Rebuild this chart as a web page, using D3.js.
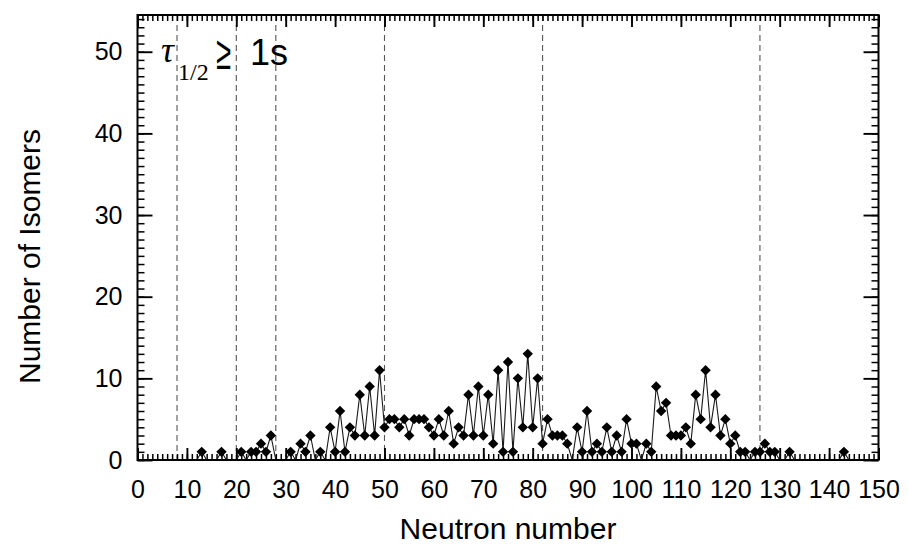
<!DOCTYPE html>
<html>
<head>
<meta charset="utf-8">
<script src="https://cdn.jsdelivr.net/npm/d3@7"></script>
<style>
  body { margin: 0; background: #fff; }
  svg { display: block; }
</style>
</head>
<body>
<svg id="chart" width="908" height="548"></svg>
<script>
// Neutron numbers covered by the isomer series (N = 12 … 144)
const neutronNumbers = d3.range(12, 145);

// Number of isomers with half-life >= 1 s at each neutron number
const isomerCounts = [
  0, 1, 0, 0, 0, 1, 0, 0, 0, 1,   // 12-21
  0, 1, 1, 2, 1, 3, 0, 0, 0, 1,   // 22-31
  0, 2, 1, 3, 0, 1, 0, 4, 1, 6,   // 32-41
  1, 4, 3, 8, 3, 9, 3, 11, 4, 5,  // 42-51
  5, 4, 5, 3, 5, 5, 5, 4, 3, 5,   // 52-61
  3, 6, 2, 4, 3, 8, 3, 9, 3, 8,   // 62-71
  2, 11, 1, 12, 1, 10, 4, 13, 4, 10, // 72-81
  2, 5, 3, 3, 3, 2, 0, 4, 1, 6,   // 82-91
  1, 2, 1, 4, 1, 3, 1, 5, 2, 2,   // 92-101
  0, 2, 1, 9, 6, 7, 3, 3, 3, 4,   // 102-111
  2, 8, 5, 11, 4, 8, 3, 5, 2, 3,  // 112-121
  1, 1, 0, 1, 1, 2, 1, 1, 0, 0,   // 122-131
  1, 0, 0, 0, 0, 0, 0, 0, 0, 0,   // 132-141
  0, 1, 0                         // 142-144
];

// Shell-closure neutron numbers marked with dashed lines
const magicNumbers = [8, 20, 28, 50, 82, 126];

const xTickValues = [0, 10, 20, 30, 40, 50, 60, 70, 80, 90, 100, 110, 120, 130, 140, 150];
const yTickValues = [0, 10, 20, 30, 40, 50];
const xMinorValues = d3.range(0, 151);
const yMinorValues = d3.range(0, 55);

const svg = d3.select("#chart");
const plot = { left: 137.5, right: 878.5, top: 15, bottom: 460 };

const x = d3.scaleLinear().domain([0, 150]).range([plot.left, plot.right]);
const y = d3.scaleLinear().domain([0, 54.5]).range([plot.bottom, plot.top]);

const FONT = "'Liberation Sans', Arial, sans-serif";
const SERIF = "'Liberation Serif', 'Times New Roman', serif";

svg.append("defs").append("clipPath").attr("id", "plotClip")
  .append("rect")
  .attr("x", plot.left).attr("y", plot.top)
  .attr("width", plot.right - plot.left).attr("height", plot.bottom - plot.top);

// Dashed magic-number guides
svg.append("g").selectAll("line").data(magicNumbers).join("line")
  .attr("x1", d => x(d)).attr("x2", d => x(d))
  .attr("y1", plot.top).attr("y2", plot.bottom)
  .attr("stroke", "#555").attr("stroke-width", 1.1)
  .attr("stroke-dasharray", "6,4");

// Inward ticks on all four sides
function tickAxis(axisFn, scale, values, size, translate, width) {
  const g = svg.append("g")
    .attr("transform", translate)
    .call(axisFn(scale).tickValues(values).tickSize(size).tickFormat(""));
  g.select(".domain").remove();
  g.selectAll(".tick line").attr("stroke", "#000").attr("stroke-width", width);
  g.selectAll(".tick text").remove();
  return g;
}
tickAxis(d3.axisBottom, x, xMinorValues, -6, `translate(0,${plot.bottom})`, 1.5);
tickAxis(d3.axisBottom, x, xTickValues, -12, `translate(0,${plot.bottom})`, 1.9);
tickAxis(d3.axisTop, x, xMinorValues, -6, `translate(0,${plot.top})`, 1.5);
tickAxis(d3.axisTop, x, xTickValues, -12, `translate(0,${plot.top})`, 1.9);
tickAxis(d3.axisLeft, y, yMinorValues, -7, `translate(${plot.left},0)`, 1.5);
tickAxis(d3.axisLeft, y, yTickValues, -15, `translate(${plot.left},0)`, 1.9);
tickAxis(d3.axisRight, y, yMinorValues, -7, `translate(${plot.right},0)`, 1.5);
tickAxis(d3.axisRight, y, yTickValues, -15, `translate(${plot.right},0)`, 1.9);

// Tick labels
const xLab = svg.append("g")
  .attr("transform", `translate(0,${plot.bottom})`)
  .call(d3.axisBottom(x).tickValues(xTickValues).tickSize(0).tickPadding(0).tickFormat(d3.format("d")));
xLab.select(".domain").remove();
xLab.selectAll("text").attr("font-family", FONT).attr("font-size", 25).attr("fill", "#000")
  .attr("dy", null).attr("y", 38);

const yLab = svg.append("g")
  .attr("transform", `translate(${plot.left},0)`)
  .call(d3.axisLeft(y).tickValues(yTickValues).tickSize(0).tickPadding(15).tickFormat(d3.format("d")));
yLab.select(".domain").remove();
yLab.selectAll("text").attr("font-family", FONT).attr("font-size", 25).attr("fill", "#000");

// Series: connecting line plus diamond markers
const series = neutronNumbers.map((n, i) => ({ n, v: isomerCounts[i] }));
const dataLayer = svg.append("g").attr("clip-path", "url(#plotClip)");

dataLayer.append("path")
  .datum(series)
  .attr("fill", "none")
  .attr("stroke", "#1a1a1a")
  .attr("stroke-width", 1.1)
  .attr("d", d3.line().x(d => x(d.n)).y(d => y(d.v)));

const r = 5.2;
dataLayer.selectAll("path.marker")
  .data(series.filter(d => d.v > 0))
  .join("path")
  .attr("class", "marker")
  .attr("transform", d => `translate(${x(d.n)},${y(d.v)})`)
  .attr("d", `M0,${-r}L${r},0L0,${r}L${-r},0Z`)
  .attr("fill", "#000");

// Plot frame
svg.append("rect")
  .attr("x", plot.left).attr("y", plot.top)
  .attr("width", plot.right - plot.left).attr("height", plot.bottom - plot.top)
  .attr("fill", "none").attr("stroke", "#000").attr("stroke-width", 2);

// Axis titles
svg.append("text")
  .attr("x", (plot.left + plot.right) / 2).attr("y", 539)
  .attr("text-anchor", "middle")
  .attr("font-family", FONT).attr("font-size", 30)
  .text("Neutron number");

svg.append("text")
  .attr("transform", `translate(40,${(plot.top + plot.bottom) / 2 + 19}) rotate(-90)`)
  .attr("text-anchor", "middle")
  .attr("font-family", FONT).attr("font-size", 30)
  .text("Number of Isomers");

// Half-life condition label
const note = svg.append("g");
note.append("text").attr("x", 161).attr("y", 62)
  .attr("font-family", SERIF)
  .attr("font-style", "italic").attr("font-size", 36).text("τ");
note.append("text").attr("x", 178).attr("y", 80)
  .attr("font-family", SERIF)
  .attr("font-size", 24).text("1/2");
note.append("text")
  .attr("transform", "translate(216,69) scale(0.8,1.4)")
  .attr("font-family", FONT).attr("font-size", 34).text("≥");
note.append("text").attr("x", 250).attr("y", 65)
  .attr("font-family", FONT).attr("font-size", 36).text("1s");
</script>
</body>
</html>
